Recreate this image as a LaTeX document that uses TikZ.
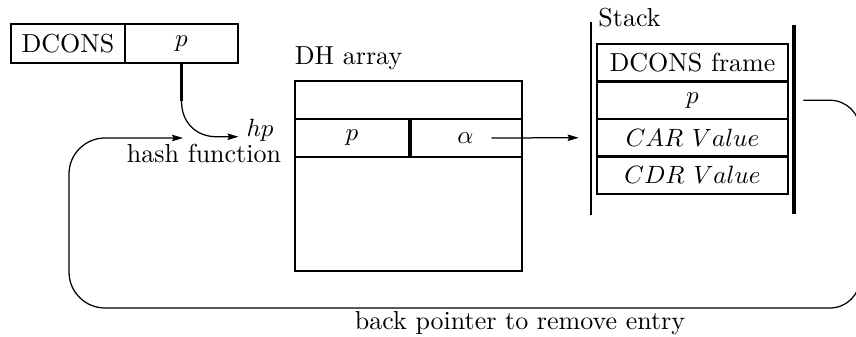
\documentclass[tikz,border=0pt]{standalone}
\usetikzlibrary{arrows.meta,calc}
\begin{document}
\begin{tikzpicture}[x=0.4pt,y=-0.4pt,
  font=\fontsize{10.4}{12.5}\selectfont,
  cell/.style={draw, line width=0.8pt, inner sep=0pt, minimum height=15.6pt, anchor=center},
  dcell/.style={draw, line width=0.75pt, inner sep=0pt, minimum height=15.2pt, anchor=center},
  scell/.style={draw, line width=1.1pt, inner sep=0pt, minimum width=76.4pt, minimum height=15pt, anchor=center},
  lbl/.style={inner sep=0pt, anchor=center},
  conn/.style={line width=0.5pt},
  tip/.style={-{Stealth[length=4.4pt,width=2.6pt,inset=0.6pt]}}]
\useasboundingbox (0,0) rectangle (856,337);
% DCONS cell
\node[cell, minimum width=45.6pt] (dc) at (68,43.5) {DCONS};
\node[cell, minimum width=45.2pt] (dp) at (181.5,43.5) {$p$};
% DH array
\node[lbl] (dhl) at (348.5,58.6) {DH array};
\node[dcell, minimum width=90.8pt] (dht) at (408.5,100) {};
\node[dcell, minimum width=45.6pt] (dhp) at (352,138) {$p$};
\node[dcell, minimum width=45.2pt] (dha) at (465.5,138) {$\alpha$};
\node[dcell, minimum width=90.8pt, minimum height=45.6pt] (dhb) at (408.5,214) {};
\draw[line width=1.4pt] (dhp.north east) -- (dhp.south east);
% Stack
\node[lbl] (stl) at (629.5,17.7) {Stack};
\node[scell] (sf) at (692.5,62.75) {DCONS frame};
\node[scell] (sp) at (692.5,100.25) {$p$};
\node[scell] (sc) at (692.5,137.75) {$CAR\ Value$};
\node[scell] (sd) at (692.5,175.25) {$CDR\ Value$};
\draw[line width=0.8pt] (591,22) -- (591,215);
\draw[line width=1.4pt] (794,25) -- (794,214);
% hash function
\node[inner sep=3pt] (hp) at (260,130.5) {$hp$};
\node[lbl] (hash) at (204,153) {hash function};
\coordinate (hin) at (183,138);
% back pointer label
\node[lbl] (back) at (520,323.5) {back pointer to remove entry};
% connectors
\draw[line width=1.1pt] (dp.south) -- ++(0,37) coordinate (k1);
\draw[conn, tip] (k1) .. controls +(0,22) and +(-20,0) .. ([xshift=-8.8pt]hp.base west) -- (hp.base west);
\draw[conn, tip] ([xshift=10.4pt]dha.center) -- ([xshift=-6.8pt]sc.west);
\draw[conn, tip] ([xshift=5.6pt]sp.east) [rounded corners=12pt] -- (860,100.25) -- (860,308) [rounded corners=14.4pt] -- (69,308) -- (69,138) -- (hin);
\end{tikzpicture}
\end{document}
